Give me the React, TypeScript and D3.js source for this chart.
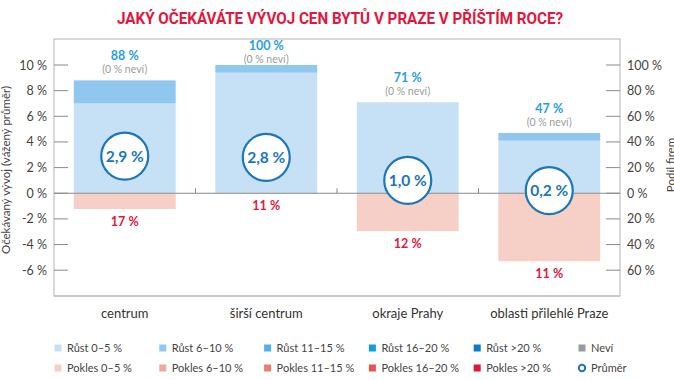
import React from "react";
import * as d3 from "d3";

const title = "JAKÝ OČEKÁVÁTE VÝVOJ CEN BYTŮ V PRAZE V PŘÍŠTÍM ROCE?";
const categories = ["centrum", "širší centrum", "okraje Prahy", "oblasti přilehlé Praze"];
const growth0to5 = [70, 94, 71, 41];
const growth6to10 = [18, 6, 0, 6];
const decline0to5 = [12.3, 0, 29.5, 53];
const growthTotalLabels = ["88 %", "100 %", "71 %", "47 %"];
const dontKnowLabels = ["(0 % neví)", "(0 % neví)", "(0 % neví)", "(0 % neví)"];
const declineLabels = ["17 %", "11 %", "12 %", "11 %"];
const averages = [2.9, 2.8, 1.0, 0.2];
const averageLabels = ["2,9 %", "2,8 %", "1,0 %", "0,2 %"];
const leftTicks = [10, 8, 6, 4, 2, 0, -2, -4, -6];
const rightTicks = [100, 80, 60, 40, 20, 0, -20, -40, -60];
const leftAxisTitle = "Očekávaný vývoj (vážený průměr)";
const rightAxisTitle = "Podíl firem";
const legendRow1 = ["Růst 0–5 %", "Růst 6–10 %", "Růst 11–15 %", "Růst 16–20 %", "Růst >20 %", "Neví"];
const legendRow2 = ["Pokles 0–5 %", "Pokles 6–10 %", "Pokles 11–15 %", "Pokles 16–20 %", "Pokles >20 %", "Průměr"];
const legendColors1 = ["#c6e1f6", "#8fc7ef", "#4fb1ea", "#0e9fe0", "#0a7ccb", "#9a9a9a"];
const legendColors2 = ["#f6d0c7", "#f1a99a", "#ec7e70", "#e6524e", "#e0173b", "none"];

const FONT = "'Lato', 'Open Sans', sans-serif";
const RED = "#e2173d";
const BLUE_LABEL = "#2a9fe0";
const CIRCLE_BLUE = "#1b76bb";

export default function App() {
  const W = 674, H = 380;
  const left = 54, right = 620, top = 39, bottom = 296;
  const yLeft = d3.scaleLinear().domain([-6, 10]).range([270.2, 65]);
  const yRight = d3.scaleLinear().domain([-60, 100]).range([270.2, 65]);
  const x = d3.scaleBand().domain(categories).range([left, right]).paddingInner(0).paddingOuter(0);
  const step = x.step();
  const barW = step * 0.72;
  const y0 = yRight(0);

  const legendX = d3.scalePoint().domain(d3.range(6).map(String)).range([58, 582]);

  return (
    <div style={{ position: "fixed", left: 0, top: 0, width: W, height: H, background: "#fff" }}>
      <svg width={W} height={H} style={{ display: "block", fontFamily: FONT }}>
        <rect width={W} height={H} fill="#fff" />
        <text x={340} y={24} textAnchor="middle" fill={RED} fontWeight={700} fontSize={17}
          textLength={446} lengthAdjust="spacingAndGlyphs"
          style={{ fontFamily: "'Liberation Sans Narrow', 'Roboto', sans-serif" }}>{title}</text>

        {/* frame */}
        <rect x={left} y={top} width={right - left} height={bottom - top} fill="none" stroke="#b4b4b4" strokeWidth={1} />
        <line x1={left} x2={right} y1={bottom} y2={bottom} stroke="#c8c8c8" strokeWidth={2} />

        {/* bars */}
        {categories.map((c, i) => {
          const cx = (x(c) as number) + step / 2;
          const bx = cx - barW / 2;
          const t1 = yRight(growth0to5[i]);
          const t2 = yRight(growth0to5[i] + growth6to10[i]);
          const bBottom = yRight(-decline0to5[i]);
          const pctBase = Math.max(t2 - 20, 50);
          return (
            <g key={c}>
              <rect x={bx} y={t1} width={barW} height={y0 - t1} fill={legendColors1[0]} />
              <rect x={bx} y={t2} width={barW} height={t1 - t2} fill={legendColors1[1]} />
              <rect x={bx} y={y0} width={barW} height={bBottom - y0} fill={legendColors2[0]} />
              <text x={cx} y={pctBase} textAnchor="middle" fill={BLUE_LABEL} fontWeight={700} fontSize={12.5}>{growthTotalLabels[i]}</text>
              <text x={cx} y={pctBase + 13} textAnchor="middle" fill="#9b9b9b" fontSize={10.5}>{dontKnowLabels[i]}</text>
              <text x={cx} y={bBottom + 16.5} textAnchor="middle" fill={RED} fontWeight={700} fontSize={12.5}>{declineLabels[i]}</text>
            </g>
          );
        })}

        {/* zero line & category ticks */}
        <line x1={left} x2={right} y1={y0} y2={y0} stroke="#8a8a8a" strokeWidth={1} />
        {categories.slice(1).map((c) => (
          <line key={c} x1={x(c) as number} x2={x(c) as number} y1={y0 - 5} y2={y0} stroke="#8a8a8a" />
        ))}

        {/* averages */}
        {categories.map((c, i) => {
          const cx = (x(c) as number) + step / 2;
          const cy = yLeft(averages[i]);
          return (
            <g key={"avg" + c}>
              <circle cx={cx} cy={cy} r={23.5} fill="#fff" stroke={CIRCLE_BLUE} strokeWidth={2.2} />
              <text x={cx} y={cy + 5.5} textAnchor="middle" fill={CIRCLE_BLUE} fontWeight={700} fontSize={15.5}>{averageLabels[i]}</text>
            </g>
          );
        })}

        {/* left axis */}
        {leftTicks.map((t) => (
          <g key={"l" + t}>
            <line x1={left} x2={left + 14} y1={yLeft(t)} y2={yLeft(t)} stroke="#8a8a8a" />
            <text x={47} y={yLeft(t) + 4.5} textAnchor="end" fill="#444" fontSize={12.5}>{`${t} %`}</text>
          </g>
        ))}
        {/* right axis */}
        {rightTicks.map((t) => (
          <g key={"r" + t}>
            <line x1={right - 14} x2={right} y1={yRight(t)} y2={yRight(t)} stroke="#8a8a8a" />
            <text x={627} y={yRight(t) + 4.5} textAnchor="start" fill="#444" fontSize={12.5}>{`${Math.abs(t)} %`}</text>
          </g>
        ))}
        <text transform={`translate(10,170) rotate(-90)`} textAnchor="middle" fill="#444" fontSize={11.5}>{leftAxisTitle}</text>
        <text transform={`translate(675,165) rotate(-90)`} textAnchor="middle" fill="#444" fontSize={11.5}>{rightAxisTitle}</text>

        {/* category labels */}
        {categories.map((c) => (
          <text key={"cl" + c} x={(x(c) as number) + step / 2} y={318} textAnchor="middle" fill="#333" fontSize={13}>{c}</text>
        ))}

        {/* legend */}
        {legendRow1.map((l, i) => {
          const lx = legendX(String(i)) as number;
          return (
            <g key={"lg1" + i}>
              <rect x={lx - 3.5} y={344.5} width={7} height={7} fill={legendColors1[i]} />
              <text x={lx + 9} y={352} fill="#444" fontSize={11}>{l}</text>
            </g>
          );
        })}
        {legendRow2.map((l, i) => {
          const lx = legendX(String(i)) as number;
          return (
            <g key={"lg2" + i}>
              {legendColors2[i] === "none" ? (
                <circle cx={lx} cy={368} r={3.2} fill="#fff" stroke={CIRCLE_BLUE} strokeWidth={2} />
              ) : (
                <rect x={lx - 3.5} y={364.5} width={7} height={7} fill={legendColors2[i]} />
              )}
              <text x={lx + 9} y={372} fill="#444" fontSize={11}>{l}</text>
            </g>
          );
        })}
      </svg>
    </div>
  );
}
